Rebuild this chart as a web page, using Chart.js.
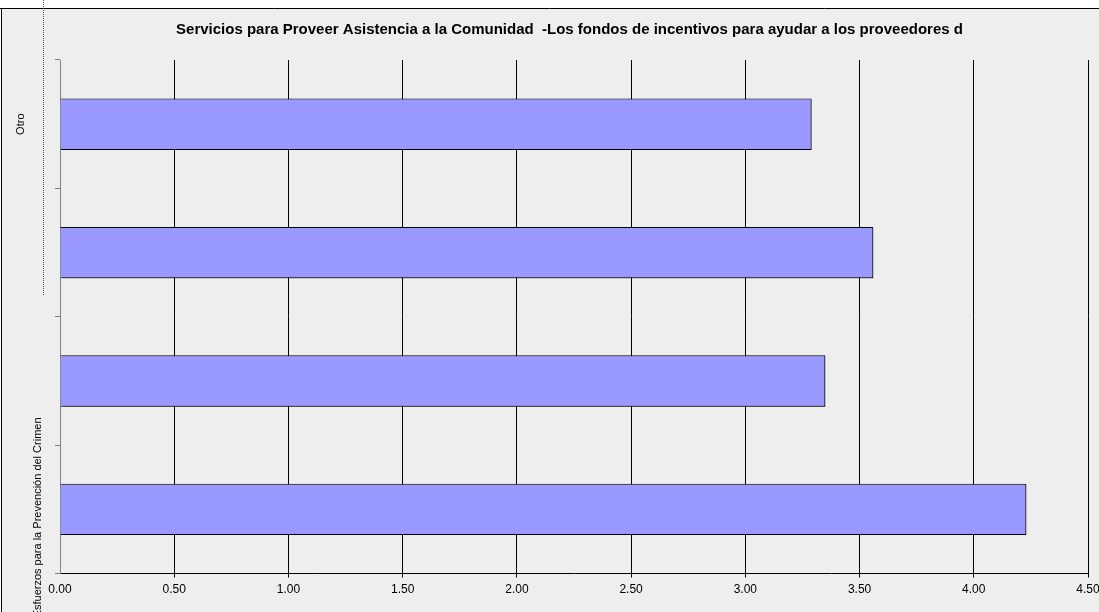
<!DOCTYPE html>
<html>
<head>
<meta charset="utf-8">
<script src="https://cdn.jsdelivr.net/npm/chart.js@4"></script>
<style>
  html, body { margin: 0; padding: 0; background: #ffffff; }
  #wrap { width: 1099px; height: 612px; position: relative; }
</style>
</head>
<body>
<div id="wrap"><canvas id="c" width="1099" height="612"></canvas></div>
<script>
// ---- data ----
const chartTitle = 'Servicios para Proveer Asistencia a la Comunidad  -Los fondos de incentivos para ayudar a los proveedores d';
const categories = ['Otro', '', '', 'Esfuerzos para la Prevención del Crimen'];
const values = [3.29, 3.56, 3.35, 4.23];
const xMin = 0;
const xMax = 4.5;
const xStep = 0.5;

// ---- plugins (decoration & rotated category labels) ----
const framePlugin = {
  id: 'frame',
  beforeDraw(chart) {
    const ctx = chart.ctx;
    ctx.save();
    ctx.fillStyle = '#ffffff';
    ctx.fillRect(0, 0, chart.width, chart.height);
    ctx.fillStyle = '#eeeeee';
    ctx.fillRect(2, 9, chart.width - 2, chart.height - 9);
    ctx.strokeStyle = '#000000';
    ctx.lineWidth = 1;
    ctx.beginPath();
    ctx.moveTo(0, 8.5); ctx.lineTo(chart.width, 8.5);
    ctx.moveTo(1.5, 8); ctx.lineTo(1.5, chart.height);
    ctx.stroke();
    ctx.strokeStyle = '#555555';
    ctx.setLineDash([1, 1]);
    ctx.beginPath();
    ctx.moveTo(43.5, 0); ctx.lineTo(43.5, 295);
    ctx.stroke();
    ctx.restore();
  }
};

const shadowPlugin = {
  id: 'barShadow',
  beforeDatasetsDraw(chart) {
    const ctx = chart.ctx;
    ctx.save();
    ctx.shadowColor = 'rgba(0,0,0,0.45)';
    ctx.shadowOffsetX = 2;
    ctx.shadowOffsetY = 1;
    ctx.shadowBlur = 0;
  },
  afterDatasetsDraw(chart) {
    chart.ctx.restore();
  }
};

const catLabelPlugin = {
  id: 'catLabels',
  afterDraw(chart, args, opts) {
    const ctx = chart.ctx;
    const yScale = chart.scales.y;
    ctx.save();
    ctx.fillStyle = '#000000';
    ctx.font = '11px "Liberation Sans", Arial, sans-serif';
    ctx.textAlign = 'center';
    ctx.textBaseline = 'middle';
    categories.forEach((lab, i) => {
      if (!lab) return;
      const y = yScale.getPixelForValue(i) + opts.yShift[i];
      const x = opts.xPos[i];
      ctx.save();
      ctx.translate(x, y);
      ctx.rotate(-Math.PI / 2);
      ctx.fillText(lab, 0, 0);
      ctx.restore();
    });
    ctx.restore();
  }
};

new Chart(document.getElementById('c'), {
  type: 'bar',
  data: {
    labels: categories,
    datasets: [{
      data: values,
      backgroundColor: '#9999ff',
      borderColor: '#000000',
      borderWidth: 1,
      categoryPercentage: 1.0,
      barPercentage: 0.4
    }]
  },
  plugins: [framePlugin, shadowPlugin, catLabelPlugin],
  options: {
    indexAxis: 'y',
    responsive: false,
    animation: false,
    devicePixelRatio: 1,
    layout: { padding: { left: 40, right: 0, top: 0, bottom: 10 } },
    plugins: {
      legend: { display: false },
      tooltip: { enabled: false },
      title: {
        display: true,
        text: chartTitle,
        color: '#000000',
        font: { family: '"Liberation Sans", Arial, sans-serif', size: 15, weight: 'bold' },
        padding: { top: 21, bottom: 21 }
      },
      catLabels: { xPos: [21, 0, 0, 38], yShift: [0, 0, 0, 8] }
    },
    scales: {
      x: {
        type: 'linear',
        min: xMin,
        max: xMax,
        ticks: {
          stepSize: xStep,
          color: '#000000',
          font: { family: '"Liberation Sans", Arial, sans-serif', size: 12 },
          padding: 5,
          callback: v => Number(v).toFixed(2)
        },
        grid: {
          color: ctx => ctx.index === 0 ? 'rgba(0,0,0,0)' : '#000000',
          lineWidth: 1,
          tickLength: 4
        },
        border: { color: '#000000', width: 1 },
        afterFit(scale) { scale.paddingRight = 11; }
      },
      y: {
        type: 'category',
        offset: true,
        ticks: { display: false },
        grid: {
          offset: true,
          drawOnChartArea: false,
          drawTicks: true,
          tickLength: 5,
          color: '#808080'
        },
        border: { color: '#808080', width: 1 },
        afterFit(scale) { scale.width = 20; }
      }
    }
  }
});
</script>
</body>
</html>
